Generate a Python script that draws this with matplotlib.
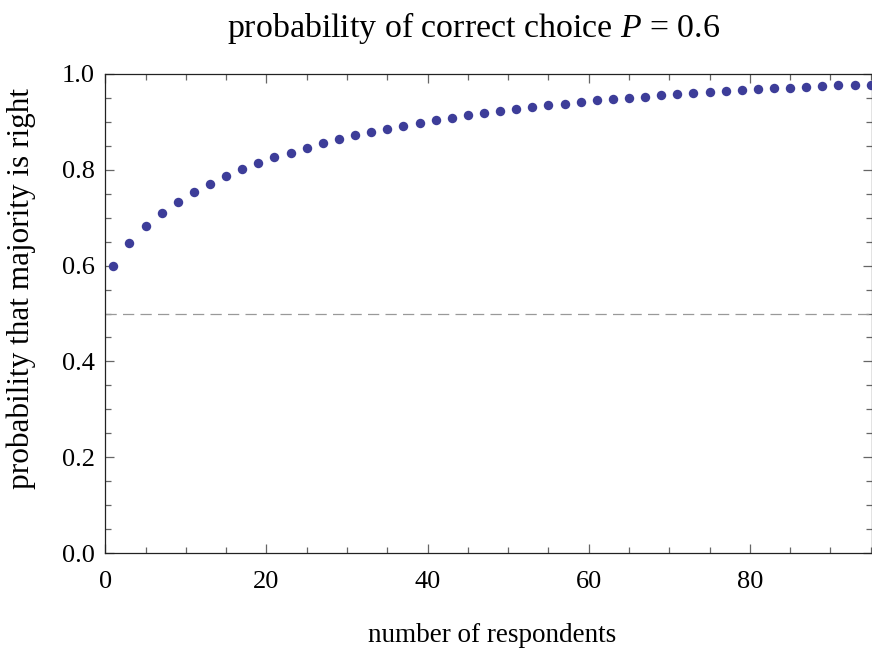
import matplotlib
matplotlib.use("Agg")
import matplotlib.pyplot as plt
from matplotlib.ticker import MultipleLocator, FormatStrFormatter

plt.rcParams["font.family"] = ["Liberation Serif", "DejaVu Serif"]
plt.rcParams["mathtext.fontset"] = "custom"
plt.rcParams["mathtext.rm"] = "Liberation Serif"
plt.rcParams["mathtext.it"] = "Liberation Serif:italic"

# respondents (odd counts) and probability that the majority is right
respondents = [1, 3, 5, 7, 9, 11, 13, 15, 17, 19, 21, 23, 25, 27, 29, 31,
               33, 35, 37, 39, 41, 43, 45, 47, 49, 51, 53, 55, 57, 59, 61, 63,
               65, 67, 69, 71, 73, 75, 77, 79, 81, 83, 85, 87, 89, 91, 93, 95]
p_majority = [0.600, 0.648, 0.683, 0.710, 0.733, 0.754, 0.771, 0.787,
              0.801, 0.814, 0.826, 0.836, 0.846, 0.855, 0.864, 0.872,
              0.879, 0.886, 0.892, 0.898, 0.904, 0.909, 0.914, 0.918,
              0.923, 0.927, 0.931, 0.935, 0.938, 0.941, 0.945, 0.948,
              0.950, 0.953, 0.956, 0.958, 0.960, 0.962, 0.964, 0.966,
              0.968, 0.970, 0.971, 0.973, 0.974, 0.976, 0.977, 0.978]
chance_level = 0.5

fig = plt.figure(figsize=(8.72, 6.5), dpi=100)
ax = fig.add_axes([105.3 / 872, 97 / 650, 767 / 872, 479 / 650])

ax.axhline(chance_level, color="#999999", lw=0.9, dashes=(9, 5))
ax.plot(respondents, p_majority, "o", color="#3D3D99", ms=6.8, mew=0,
        clip_on=False, zorder=3)

ax.set_xlim(0, 95.2)
ax.set_ylim(0, 1.0)
ax.xaxis.set_major_locator(MultipleLocator(20))
ax.xaxis.set_minor_locator(MultipleLocator(5))
ax.yaxis.set_major_locator(MultipleLocator(0.2))
ax.yaxis.set_minor_locator(MultipleLocator(0.05))
ax.yaxis.set_major_formatter(FormatStrFormatter("%.1f"))

ax.tick_params(which="both", direction="in", top=True, right=True,
               color="#666666", width=0.9, labelsize=19)
ax.tick_params(axis="x", which="major", pad=13)
ax.tick_params(axis="y", which="major", pad=7.3)
ax.tick_params(which="major", length=6.5)
ax.tick_params(which="minor", length=4)
for sp in ax.spines.values():
    sp.set_color("#222222")
    sp.set_linewidth(0.9)

fig.text(492 / 872, 1 - 642 / 650, "number of respondents",
         ha="center", va="baseline", fontsize=19.5)
fig.text(21 / 872, 1 - 288 / 650, "probability that majority is right",
         ha="center", va="center", rotation=90, fontsize=22.5)
fig.text(474 / 872, 1 - 37 / 650, "probability of correct choice $P$ = 0.6",
         ha="center", va="baseline", fontsize=24.4)

fig.savefig("out.png", dpi=100)
